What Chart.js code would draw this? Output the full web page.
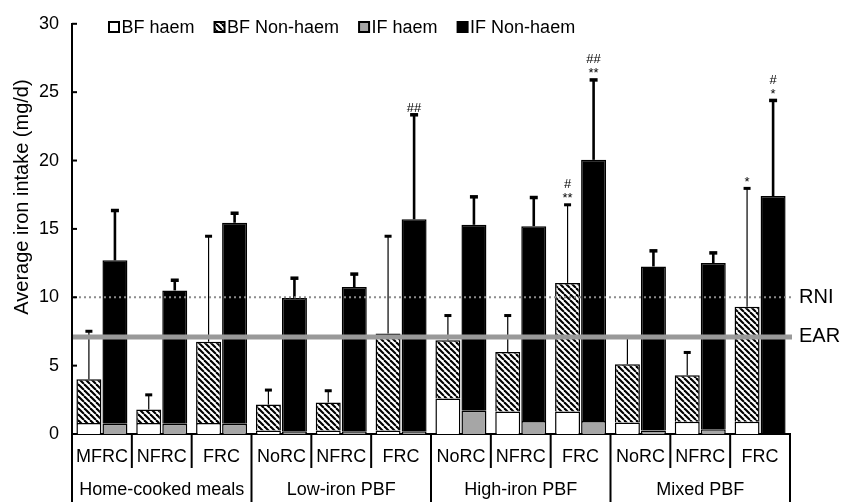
<!DOCTYPE html>
<html>
<head>
<meta charset="utf-8">
<script src="https://cdn.jsdelivr.net/npm/chart.js@4.4.0/dist/chart.umd.min.js"></script>
<style>
body { margin: 0; background: #fff; }
#wrap { width: 842px; height: 502px; }
</style>
</head>
<body>
<div id="wrap"><canvas id="chart" width="842" height="502"></canvas></div>
<script>
// DATA
var categories = ['MFRC', 'NFRC', 'FRC', 'NoRC', 'NFRC', 'FRC', 'NoRC', 'NFRC', 'FRC', 'NoRC', 'NFRC', 'FRC'];
var groups = ['Home-cooked meals', 'Low-iron PBF', 'High-iron PBF', 'Mixed PBF'];
var bfHaem    = [0.8, 0.8, 0.8, 0.25, 0.25, 0.25, 2.6, 1.65, 1.65, 0.85, 0.9, 0.9];
var bfNonHaem = [3.2, 1.0, 5.95, 1.9, 2.05, 7.1, 4.25, 4.35, 9.4, 4.25, 3.4, 8.4];
var bfSD      = [3.55, 1.1, 7.75, 1.1, 0.9, 7.15, 1.85, 2.7, 5.75, 2.0, 1.7, 8.7];
var ifHaem    = [0.75, 0.75, 0.75, 0.2, 0.2, 0.2, 1.7, 0.95, 0.95, 0.25, 0.35, 0];
var ifNonHaem = [11.95, 9.75, 14.7, 9.75, 10.55, 15.5, 13.6, 14.25, 19.1, 12.0, 12.15, 17.4];
var ifSD      = [3.7, 0.8, 0.75, 1.5, 1.0, 7.7, 2.1, 2.15, 5.9, 1.2, 0.8, 7.05];
var bfSig = ['', '', '', '', '', '', '', '', '#\n**', '', '', '*'];
var ifSig = ['', '', '', '', '', '##', '', '', '##\n**', '', '', '#\n*'];
var rni = 10;
var ear = 7.1;

var FONT = '"Liberation Sans", Arial, sans-serif';
Chart.defaults.font.family = FONT;
Chart.defaults.color = '#000';

// HATCH PATTERN FOR BF NON-HAEM
function makeHatch() {
	var pc = document.createElement('canvas');
	pc.width = 6; pc.height = 6;
	var c = pc.getContext('2d');
	c.fillStyle = '#fff';
	c.fillRect(0, 0, 6, 6);
	c.strokeStyle = '#000';
	c.lineWidth = 2.1;
	[-6, 0, 6].forEach(function(o) {
		c.beginPath();
		c.moveTo(o, 0);
		c.lineTo(o + 6, 6);
		c.stroke();
	});
	return document.getElementById('chart').getContext('2d').createPattern(pc, 'repeat');
}
var hatch = makeHatch();

// EXTRA DRAWING: ERROR BARS, REFERENCE LINES, LABEL TABLE, LEGEND
var extras = {
	id: 'extras',
	afterDatasetsDraw: function(chart) {
		var ctx = chart.ctx, x = chart.scales.x, y = chart.scales.y, area = chart.chartArea;
		ctx.save();
		// error bars
		function errBar(px, v, sd, lw, capW, capH) {
			var y0 = y.getPixelForValue(v), y1 = y.getPixelForValue(v + sd);
			ctx.strokeStyle = '#000';
			ctx.lineWidth = lw;
			ctx.beginPath();
			ctx.moveTo(px, y0);
			ctx.lineTo(px, y1);
			ctx.stroke();
			ctx.fillStyle = '#000';
			ctx.fillRect(px - capW / 2, y1 - 1, capW, capH);
			return y1;
		}
		function sig(px, top, txt) {
			if (!txt) return;
			ctx.font = '13px ' + FONT;
			ctx.textAlign = 'center';
			ctx.textBaseline = 'alphabetic';
			ctx.fillStyle = '#000';
			var lines = txt.split('\n').reverse();
			lines.forEach(function(l, k) {
				ctx.fillText(l, px, top - 2 - k * 14);
			});
		}
		var bfMeta = chart.getDatasetMeta(1), ifMeta = chart.getDatasetMeta(3);
		var tops = [];
		for (var i = 0; i < categories.length; i++) {
			var b = bfMeta.data[i], f = ifMeta.data[i];
			var t1 = errBar(b.x, bfHaem[i] + bfNonHaem[i], bfSD[i], 1.2, 7, 3);
			var t2 = errBar(f.x, ifHaem[i] + ifNonHaem[i], ifSD[i], 2.6, 8, 3.5);
			tops.push([b.x, t1, f.x, t2]);
		}
		// RNI dotted line
		var yr = y.getPixelForValue(rni);
		ctx.strokeStyle = '#8c8c8c';
		ctx.lineWidth = 2;
		ctx.setLineDash([2, 3]);
		ctx.beginPath();
		ctx.moveTo(area.left + 2, yr);
		ctx.lineTo(area.right + 2, yr);
		ctx.stroke();
		ctx.setLineDash([]);
		// EAR solid line
		var ye = y.getPixelForValue(ear);
		ctx.strokeStyle = '#999';
		ctx.lineWidth = 5;
		ctx.beginPath();
		ctx.moveTo(area.left + 1, ye);
		ctx.lineTo(area.right + 2, ye);
		ctx.stroke();
		// significance marks
		tops.forEach(function(t, k) {
			sig(t[0], t[1], bfSig[k]);
			sig(t[2], t[3], ifSig[k]);
		});
		// line labels
		ctx.font = '20px ' + FONT;
		ctx.textAlign = 'left';
		ctx.textBaseline = 'middle';
		ctx.fillStyle = '#000';
		ctx.fillText('RNI', area.right + 9, yr);
		ctx.fillText('EAR', area.right + 9, ye);
		ctx.restore();
	},
	afterDraw: function(chart) {
		var ctx = chart.ctx, x = chart.scales.x, y = chart.scales.y, area = chart.chartArea;
		ctx.save();
		// inward y ticks
		ctx.strokeStyle = '#000';
		ctx.lineWidth = 2;
		y.ticks.forEach(function(t) {
			var py = y.getPixelForValue(t.value);
			ctx.beginPath();
			ctx.moveTo(area.left, py);
			ctx.lineTo(area.left + 5, py);
			ctx.stroke();
		});
		// y title
		ctx.save();
		ctx.translate(22, 197);
		ctx.rotate(-Math.PI / 2);
		ctx.font = '20px ' + FONT;
		ctx.textAlign = 'center';
		ctx.textBaseline = 'middle';
		ctx.fillText('Average iron intake (mg/d)', 0, 0);
		ctx.restore();
		// label table under x axis
		var half = (x.getPixelForValue(1) - x.getPixelForValue(0)) / 2;
		var yb = area.bottom, ySub = 468, yEnd = chart.height;
		ctx.beginPath();
		ctx.moveTo(area.left, yb);
		ctx.lineTo(area.left, yEnd);
		for (var i = 1; i <= categories.length; i++) {
			var px = x.getPixelForValue(i - 1) + half;
			ctx.moveTo(px, yb);
			ctx.lineTo(px, i % 3 === 0 ? yEnd : ySub);
		}
		ctx.stroke();
		ctx.font = '18px ' + FONT;
		ctx.textAlign = 'center';
		ctx.textBaseline = 'middle';
		ctx.fillStyle = '#000';
		categories.forEach(function(c, k) {
			ctx.fillText(c, x.getPixelForValue(k), 457);
		});
		groups.forEach(function(g, k) {
			ctx.fillText(g, x.getPixelForValue(k * 3 + 1), 490);
		});
		// legend
		var lx = 109, ly = 27;
		ctx.textAlign = 'left';
		chart.data.datasets.forEach(function(ds) {
			ctx.fillStyle = ds.backgroundColor;
			ctx.fillRect(lx, ly - 5, 10, 10);
			ctx.lineWidth = 2;
			ctx.strokeStyle = '#000';
			ctx.strokeRect(lx, ly - 5, 10, 10);
			ctx.fillStyle = '#000';
			ctx.fillText(ds.label, lx + 12.5, ly + 1);
			lx += 12.5 + ctx.measureText(ds.label).width + 20;
		});
		ctx.restore();
	}
};

// CHART
var chart = new Chart(document.getElementById('chart').getContext('2d'), {
	type: 'bar',
	data: {
		labels: categories,
		datasets: [
			{ label: 'BF haem', data: bfHaem, stack: 'BF', backgroundColor: '#fff', borderColor: '#000', borderWidth: 1.5 },
			{ label: 'BF Non-haem', data: bfNonHaem, stack: 'BF', backgroundColor: hatch, borderColor: '#000', borderWidth: 1.5 },
			{ label: 'IF haem', data: ifHaem, stack: 'IF', backgroundColor: '#a6a6a6', borderColor: '#000', borderWidth: 1.5 },
			{ label: 'IF Non-haem', data: ifNonHaem, stack: 'IF', backgroundColor: '#000', borderColor: '#000', borderWidth: 1.5 }
		]
	},
	options: {
		responsive: false,
		animation: false,
		events: [],
		barPercentage: 0.96,
		categoryPercentage: 0.87,
		layout: { padding: { top: 15, right: 52, bottom: 68, left: 0 } },
		plugins: {
			legend: { display: false },
			tooltip: { enabled: false }
		},
		scales: {
			x: {
				stacked: true,
				grid: { display: false },
				border: { color: '#000', width: 2 },
				ticks: { display: false },
				afterFit: function(s) { s.height = 0; }
			},
			y: {
				stacked: true,
				min: 0,
				max: 30,
				grid: { display: false, drawTicks: false },
				border: { color: '#000', width: 2 },
				ticks: { stepSize: 5, padding: 13, font: { size: 18 }, color: '#000' },
				afterFit: function(s) { s.width = 72; }
			}
		}
	},
	plugins: [extras]
});
</script>
</body>
</html>
